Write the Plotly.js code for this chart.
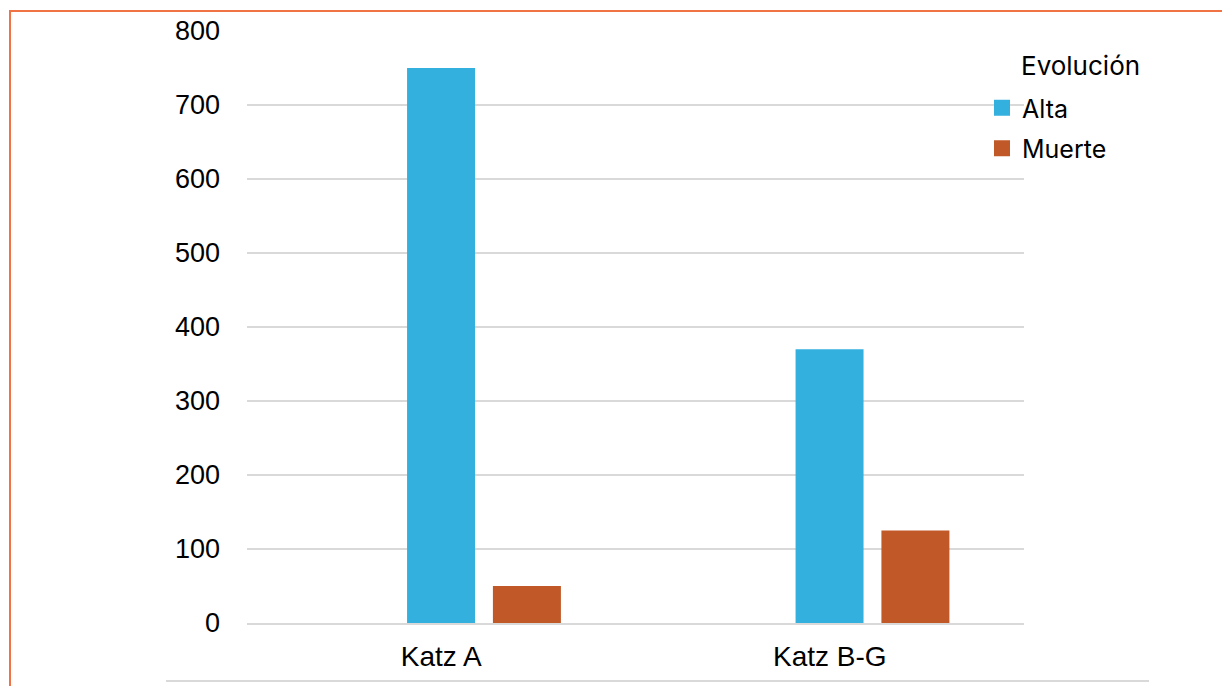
<!DOCTYPE html>
<html>
<head>
<meta charset="utf-8">
<script src="https://cdn.plot.ly/plotly-3.0.1.min.js"></script>
<style>
  html, body { margin: 0; padding: 0; background: #ffffff; overflow: hidden; }
  #chart { width: 1222px; height: 686px; }
  #frame { position: absolute; left: 9px; top: 10px; width: 1400px; height: 900px;
           border-left: 2px solid #F07345; border-top: 2px solid #F07345; pointer-events: none; }
</style>
</head>
<body>
<div id="chart"></div>
<div id="frame"></div>
<script>
const categories = ["Katz A", "Katz B-G"];
const seriesNames = ["Alta", "Muerte"];
const alta = [750, 370];
const muerte = [50, 125];
const colors = ["#34B0DF", "#C15827"];
const yTicks = [0, 100, 200, 300, 400, 500, 600, 700, 800];
const legendTitle = "Evolución";

const seriesValues = [alta, muerte];
const barOffsets = [-0.088, 0.133];
const barWidth = 0.175;

const traces = [];
seriesValues.forEach((vals, i) => {
  traces.push({
    type: "bar",
    name: seriesNames[i],
    x: categories,
    y: vals,
    offset: barOffsets[i],
    width: barWidth,
    marker: { color: colors[i], line: { width: 0 } },
    showlegend: false,
    hoverinfo: "x+y+name"
  });
});
// legend entries (square swatches)
seriesValues.forEach((vals, i) => {
  traces.push({
    type: "scatter",
    mode: "markers",
    name: seriesNames[i],
    x: [null],
    y: [null],
    legendgroup: "g" + i,
    marker: { symbol: "square", size: 16, color: colors[i] },
    showlegend: true,
    hoverinfo: "skip"
  });
});

const L = 247, R = 1024, T = 31, B = 623;
const px = v => (v - L) / (R - L);
const py = v => (B - v) / (B - T);

const layout = {
  width: 1222,
  height: 686,
  margin: { l: L, r: 1222 - R, t: T, b: 686 - B, pad: 0 },
  paper_bgcolor: "#ffffff",
  plot_bgcolor: "#ffffff",
  barmode: "overlay",
  font: { family: "Liberation Sans, Arial, sans-serif", color: "#000000" },
  xaxis: {
    type: "category",
    range: [-0.5, 1.5],
    showgrid: false,
    showline: true,
    linecolor: "#D9D9D9",
    linewidth: 2,
    ticks: "",
    tickfont: { size: 28, family: "Liberation Sans, Arial, sans-serif", color: "#000000" },
    ticklabelstandoff: 7,
    fixedrange: true
  },
  yaxis: {
    range: [0, 800],
    tickvals: yTicks,
    showgrid: true,
    gridcolor: "#D9D9D9",
    gridwidth: 1.5,
    zeroline: false,
    showline: false,
    ticks: "",
    tickfont: { size: 27, family: "Liberation Sans, Arial, sans-serif", color: "#000000" },
    ticklabelstandoff: 26,
    fixedrange: true
  },
  showlegend: true,
  legend: {
    x: px(982),
    xanchor: "left",
    y: py(85),
    yanchor: "top",
    traceorder: "grouped",
    tracegroupgap: 5,
    font: { family: "Inter, Lato, sans-serif", size: 25, color: "#000000" },
    bgcolor: "rgba(0,0,0,0)",
    borderwidth: 0
  },
  annotations: [{
    text: legendTitle,
    xref: "paper", yref: "paper",
    x: px(1019), xanchor: "left",
    y: py(65), yanchor: "middle",
    showarrow: false,
    font: { family: "Inter, Lato, sans-serif", size: 26, color: "#000000" }
  }],
  shapes: [{
    type: "line",
    xref: "paper", yref: "paper",
    x0: px(166), x1: px(1149),
    y0: py(681), y1: py(681),
    line: { color: "#D9D9D9", width: 2 }
  }]
};

Plotly.newPlot("chart", traces, layout, { displayModeBar: false, staticPlot: true });
</script>
</body>
</html>
